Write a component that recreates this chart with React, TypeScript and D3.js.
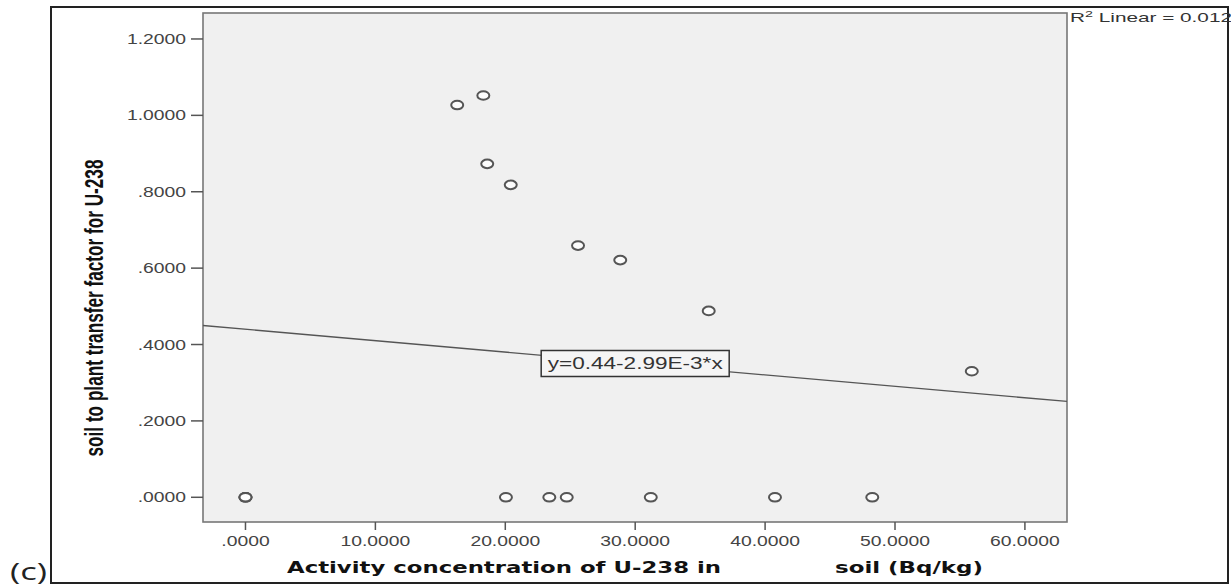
import React, { useEffect, useRef } from 'react';
import * as d3 from 'd3';

// measured values (soil activity Bq/kg vs transfer factor)
const soilActivity = [0, 0, 0, 16.3, 18.31, 18.61, 20.42, 25.6, 28.85, 35.66, 55.91, 20.05, 23.39, 24.73, 31.2, 40.76, 48.25];
const transferFactor = [0, 0, 0, 1.027, 1.052, 0.873, 0.818, 0.659, 0.621, 0.488, 0.33, 0, 0, 0, 0, 0, 0];

const xTicks = [0, 10, 20, 30, 40, 50, 60];
const yTicks = [0, 0.2, 0.4, 0.6, 0.8, 1.0, 1.2];

const fitIntercept = 0.44;
const fitSlope = -2.99e-3;
const fitLabel = 'y=0.44-2.99E-3*x';
const r2Value = '0.012';

const xTitleA = 'Activity concentration of U-238 in';
const xTitleB = 'soil (Bq/kg)';
const yTitle = 'soil to plant transfer factor for U-238';

const W = 1231;
const H = 586;
const SX = 1.38; // horizontal stretch of the original picture

const App = () => {
    const svgRef = useRef<SVGSVGElement>(null);

    useEffect(() => {
        const svg = d3.select(svgRef.current);
        svg.selectAll('*').remove();

        const left = 203, right = 1067, top = 13, bottom = 522;

        const x = d3.scaleLinear().domain([-3.27, 63.24]).range([left, right]);
        const y = d3.scaleLinear().domain([-0.0647, 1.268]).range([bottom, top]);

        const fmt = (d: number) => d3.format('.4f')(d).replace(/^0\./, '.');

        // outer frame
        svg.append('rect')
            .attr('x', 51).attr('y', 7)
            .attr('width', 1177).attr('height', 576)
            .attr('fill', '#fff')
            .attr('stroke', '#222')
            .attr('stroke-width', 2);

        // plot area
        svg.append('rect')
            .attr('x', left).attr('y', top)
            .attr('width', right - left).attr('height', bottom - top)
            .attr('fill', '#f0f0f0')
            .attr('stroke', '#777')
            .attr('stroke-width', 1.6);

        // y ticks
        const yt = svg.append('g');
        yTicks.forEach(t => {
            yt.append('line')
                .attr('x1', left - 12).attr('x2', left)
                .attr('y1', y(t)).attr('y2', y(t))
                .attr('stroke', '#555').attr('stroke-width', 1.5);
            yt.append('text')
                .attr('transform', `translate(186,${y(t) + 5}) scale(${SX},1)`)
                .attr('text-anchor', 'end')
                .attr('font-family', 'Liberation Sans, Arial, sans-serif')
                .attr('font-size', 14)
                .attr('fill', '#444')
                .text(fmt(t));
        });

        // x ticks
        const xt = svg.append('g');
        xTicks.forEach(t => {
            xt.append('line')
                .attr('x1', x(t)).attr('x2', x(t))
                .attr('y1', bottom).attr('y2', bottom + 8)
                .attr('stroke', '#555').attr('stroke-width', 1.5);
            xt.append('text')
                .attr('transform', `translate(${x(t)},546) scale(${SX},1)`)
                .attr('text-anchor', 'middle')
                .attr('font-family', 'Liberation Sans, Arial, sans-serif')
                .attr('font-size', 14)
                .attr('fill', '#444')
                .text(fmt(t));
        });

        // fit line
        const xd = x.domain();
        svg.append('line')
            .attr('x1', x(xd[0])).attr('y1', y(fitIntercept + fitSlope * xd[0]))
            .attr('x2', x(xd[1])).attr('y2', y(fitIntercept + fitSlope * xd[1]))
            .attr('stroke', '#555')
            .attr('stroke-width', 1.3);

        // points
        svg.append('g')
            .selectAll('ellipse')
            .data(soilActivity.map((v, i) => ({ x: v, y: transferFactor[i] })))
            .enter()
            .append('ellipse')
            .attr('cx', d => x(d.x))
            .attr('cy', d => y(d.y))
            .attr('rx', 6)
            .attr('ry', 4.3)
            .attr('fill', '#fff')
            .attr('fill-opacity', 0.8)
            .attr('stroke', '#555')
            .attr('stroke-width', 2);

        // equation label
        const ex = x(30);
        const ey = y(fitIntercept + fitSlope * 30);
        svg.append('rect')
            .attr('x', ex - 94).attr('y', ey - 13)
            .attr('width', 188).attr('height', 26)
            .attr('fill', '#f5f5f5')
            .attr('stroke', '#333')
            .attr('stroke-width', 1.5);
        svg.append('text')
            .attr('x', ex).attr('y', ey + 6)
            .attr('text-anchor', 'middle')
            .attr('font-family', 'Liberation Sans, Arial, sans-serif')
            .attr('font-size', 16)
            .attr('fill', '#333')
            .attr('textLength', 175)
            .attr('lengthAdjust', 'spacingAndGlyphs')
            .text(fitLabel);

        // R² label
        const r2 = svg.append('text')
            .attr('x', 1070).attr('y', 22)
            .attr('font-family', 'Liberation Sans, Arial, sans-serif')
            .attr('font-size', 13)
            .attr('fill', '#333')
            .attr('textLength', 162)
            .attr('lengthAdjust', 'spacingAndGlyphs');
        r2.append('tspan').text('R');
        r2.append('tspan').attr('font-size', 9).attr('dy', -5).text('2');
        r2.append('tspan').attr('dy', 5).text(` Linear = ${r2Value}`);

        // axis titles
        svg.append('text')
            .attr('x', 287).attr('y', 573)
            .attr('font-family', 'DejaVu Sans, Verdana, sans-serif')
            .attr('font-weight', 'bold')
            .attr('font-size', 15)
            .attr('fill', '#111')
            .attr('textLength', 434)
            .attr('lengthAdjust', 'spacingAndGlyphs')
            .text(xTitleA);
        svg.append('text')
            .attr('x', 835).attr('y', 573)
            .attr('font-family', 'DejaVu Sans, Verdana, sans-serif')
            .attr('font-weight', 'bold')
            .attr('font-size', 15)
            .attr('fill', '#111')
            .attr('textLength', 148)
            .attr('lengthAdjust', 'spacingAndGlyphs')
            .text(xTitleB);

        svg.append('text')
            .attr('transform', `translate(103,308) scale(${SX},1) rotate(-90)`)
            .attr('text-anchor', 'middle')
            .attr('font-family', 'Liberation Sans, Arial, sans-serif')
            .attr('font-weight', 'bold')
            .attr('font-size', 19)
            .attr('fill', '#111')
            .attr('textLength', 297)
            .attr('lengthAdjust', 'spacingAndGlyphs')
            .text(yTitle);

        // panel letter
        svg.append('text')
            .attr('x', 10).attr('y', 580)
            .attr('font-family', 'Open Sans, Noto Sans, sans-serif')
            .attr('font-size', 24)
            .attr('fill', '#222')
            .attr('textLength', 37)
            .attr('lengthAdjust', 'spacingAndGlyphs')
            .text('(c)');
    }, []);

    return (
        <svg
            ref={svgRef}
            width={W}
            height={H}
            style={{ position: 'absolute', left: 0, top: 0, background: '#fff' }}
        />
    );
};

export default App;
